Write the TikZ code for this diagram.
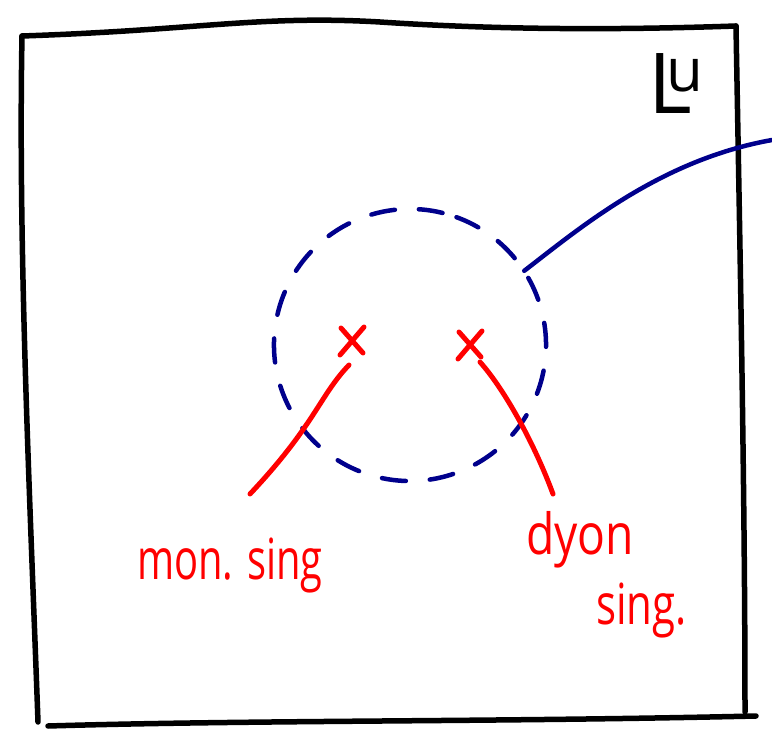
\documentclass[tikz,border=0pt]{standalone}
\usepackage{fontspec}
\setmainfont{Open Sans}
\usetikzlibrary{positioning}

\begin{document}
\begin{tikzpicture}[x=1pt,y=-1pt,line cap=round,line join=round,
  frame/.style={draw,line width=5.5pt,black},
  cut/.style={draw,line width=4.5pt,color=blue!55!black,dash pattern=on 24pt off 24pt},
  wire/.style={draw,line width=4.5pt,color=blue!55!black},
  sing/.style={draw,line width=5pt,red},
  lbl/.style={text=red,font=\fontsize{42}{46}\selectfont,align=left,inner sep=0pt}]
  \useasboundingbox (0,0) rectangle (772,754);
  % frame
  \coordinate (tl) at (22,36); \coordinate (tr) at (736,26);
  \coordinate (bl) at (38,722); \coordinate (br) at (756,716);
  \draw[frame] (tl) .. controls (200,30) and (260,15) .. (380,22) .. controls (500,30) and (620,30) .. (tr);
  \draw[frame] (22,36) .. controls (18,250) and (30,500) .. (bl);
  \draw[frame] (48,726) .. controls (250,720) and (500,722) .. (br);
  \draw[frame] (tr) .. controls (740,250) and (745,500) .. (745,712);
  \node[font=\fontsize{84}{88}\selectfont,inner sep=0pt] (lu) at (676,84)
    {L\kern-26pt\raisebox{22pt}{\fontsize{60}{62}\selectfont u}};
  % cut circle
  \node[circle,minimum size=272pt,inner sep=0pt] (disk) at (410,345) {};
  \draw[cut] (disk.center) ++(70:136pt) arc[start angle=70,end angle=-290,radius=136pt];
  \coordinate (out) at (772,140);
  \draw[wire] (disk.33) .. controls (580,228) and (660,160) .. (out);
  % singularities
  \coordinate (mon) at (352,340); \coordinate (dyon) at (470,344);
  \foreach \p in {mon,dyon}{
    \draw[sing] (\p) ++(-11,-12) -- ++(22,25);
    \draw[sing] (\p) ++(12,-13) -- ++(-24,28);}
  \coordinate (monend) at (250,494); \coordinate (dyonend) at (553,494);
  \draw[sing] (mon) ++(-3,25) .. controls (320,395) and (315,425) .. (monend);
  \draw[sing] (dyon) ++(10,18) .. controls (505,390) and (535,445) .. (dyonend);
  \node[lbl] (monlbl) at (230,566) {\scalebox{0.95}[1.35]{mon. sing}};
  \node[lbl] (dyonlbl) at (580,540) {\scalebox{1.1}[1.35]{dyon}};
  \node[lbl,below right=14pt and -38pt of dyonlbl] (dyonsing) {\scalebox{1}[1.35]{sing.}};
\end{tikzpicture}
\end{document}
